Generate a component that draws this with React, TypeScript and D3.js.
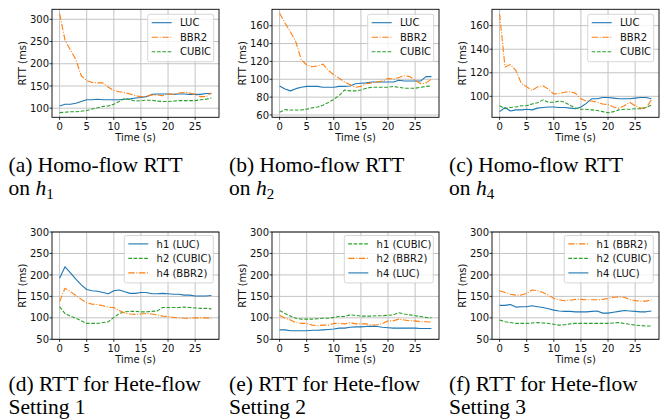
import React from 'react';
import * as d3 from 'd3';

// seconds 0..28
const seconds = [0, 1, 2, 3, 4, 5, 6, 7, 8, 9, 10, 11, 12, 13, 14, 15, 16, 17, 18, 19, 20, 21, 22, 23, 24, 25, 26, 27, 28];
const xTicks = [0, 5, 10, 15, 20, 25];

// (a) homo-flow on h1
const aLuc = [105, 109, 109, 111, 115, 119, 119, 120, 119, 119, 119, 119, 120, 121, 123, 124, 126, 131, 132, 132, 132, 131, 132, 132, 131, 131, 131, 133, 133];
const aBbr2 = [313, 253, 231, 209, 173, 162, 158, 157, 157, 147, 140, 137, 135, 132, 128, 126, 126, 130, 130, 128, 132, 131, 134, 136, 134, 131, 126, 126, 134];
const aCubic = [90, 91, 92, 92, 93, 95, 98, 101, 104, 105, 109, 115, 122, 119, 116, 117, 118, 118, 116, 115, 115, 116, 117, 117, 117, 117, 119, 120, 123];

// (b) homo-flow on h2
const bLuc = [92.5, 89, 87, 89.5, 91, 92, 92, 92, 91, 91, 91, 92, 92, 92.5, 95, 95.5, 96, 97, 97, 97, 97, 97, 99, 98, 98, 98, 98, 103, 103];
const bBbr2 = [174, 163, 153, 142, 122, 116, 114, 115, 117, 110, 105, 101, 97, 94, 91, 92, 95, 96, 97, 98, 101, 100, 102, 104, 103, 99, 95, 96, 100];
const bCubic = [63, 66, 65.5, 65.5, 65.5, 66.5, 68, 69, 71, 74, 77.5, 82, 88, 87, 87, 88, 90, 91, 91, 91, 91, 92, 91, 90, 90, 90, 91, 92, 92.5];

// (c) homo-flow on h4
const cLuc = [87, 90.5, 87.5, 88.5, 88.5, 89, 88.5, 90, 90.5, 91, 91, 90.5, 90.5, 90, 89.5, 91, 94, 98, 98, 99, 99, 98.5, 98, 98, 98, 98.5, 99, 99, 98];
const cBbr2 = [170, 125, 127, 122, 111, 108, 105, 108, 109, 106, 102, 102.5, 103.5, 104, 102.5, 98, 96, 96, 95, 93.5, 93, 91, 90, 92, 95, 92, 90, 90, 97];
const cCubic = [92, 89.5, 90.5, 91, 92, 92, 93.5, 94.5, 97, 95, 95, 96, 95, 92.5, 90, 89, 89, 88.5, 88, 87, 86, 87, 88.5, 89, 89, 89.5, 89.5, 90.5, 92.5];

// (d) hete-flow setting 1
const dH1Luc = [192, 219, 205, 190, 177, 166, 163, 162, 159, 156, 163, 165, 161, 157, 157, 159, 159, 156, 156, 157, 156, 155, 155, 153, 153, 151, 151, 151, 152];
const dH2Cubic = [126, 110, 104, 99, 93, 87, 87, 87, 89, 91, 101, 110, 114, 115, 115, 114, 114, 115, 116, 124, 124, 124, 124, 125, 124, 123, 122, 122, 121];
const dH4Bbr2 = [138, 169, 161, 152, 143, 135, 132, 131, 128, 125, 124, 117, 111, 109, 108, 109, 110, 109, 107, 104, 103, 101, 100, 99, 99, 100, 100, 100, 100];

// (e) hete-flow setting 2
const eH1Cubic = [117, 110, 104, 99, 97, 97, 97, 98, 99, 99, 101, 103, 103, 107, 106, 104, 104, 104, 105, 105, 106, 107, 112, 109, 107, 105, 103, 101, 100];
const eH2Bbr2 = [106, 99, 95, 89, 87, 87, 83, 82, 83, 83, 87, 87, 86, 89, 86, 86, 86, 83, 84, 87, 93, 93, 97, 95, 93, 93, 91, 91, 90];
const eH4Luc = [72, 72, 70, 70, 70, 70, 71, 71, 72, 73, 74, 76, 76, 78, 79, 79, 80, 80, 80, 78, 77, 76, 76, 76, 76, 76, 75, 75, 75];

// (f) hete-flow setting 3
const fH1Bbr2 = [163, 159, 155, 153, 153, 157, 165, 163, 159, 153, 145, 142, 140, 141, 143, 143, 142, 142, 142, 143, 145, 148, 149, 148, 143, 140, 139, 139, 142];
const fH2Cubic = [95, 91, 89, 87, 87, 87, 88, 89, 88, 87, 85, 83, 84, 86, 87, 87, 87, 87, 87, 87, 87, 88, 89, 87, 85, 83, 82, 81, 81];
const fH4Luc = [129, 129, 131, 125, 126, 126, 128, 126, 124, 121, 118, 116, 115, 115, 114, 114, 114, 115, 116, 111, 111, 113, 115, 117, 116, 115, 114, 114, 116];

const captionsTop = ['(a) Homo-flow RTT', '(b) Homo-flow RTT', '(c) Homo-flow RTT'];
const captionSubs = ['1', '2', '4'];
const captionsBottom = ['(d) RTT for Hete-flow', '(e) RTT for Hete-flow', '(f) RTT for Hete-flow'];
const settingNames = ['Setting 1', 'Setting 2', 'Setting 3'];

const BLUE = '#1f77b4';
const ORANGE = '#ff7f0e';
const GREEN = '#2ca02c';
const SOLID = 'none';
const DASHED = '3.7,1.6';
const DASHDOT = '6.4,1.6,1,1.6';

const FONT = 'DejaVu Sans';

const mk = (label, values, color, dash) => ({ label, values, color, dash });

const panels = [
  { ox: 0, row: 0, yDomain: [79.5, 322.5], yTicks: [100, 150, 200, 250, 300],
    series: [mk('LUC', aLuc, BLUE, SOLID), mk('BBR2', aBbr2, ORANGE, DASHDOT), mk('CUBIC', aCubic, GREEN, DASHED)] },
  { ox: 220, row: 0, yDomain: [57.4, 178.4], yTicks: [60, 80, 100, 120, 140, 160],
    series: [mk('LUC', bLuc, BLUE, SOLID), mk('BBR2', bBbr2, ORANGE, DASHDOT), mk('CUBIC', bCubic, GREEN, DASHED)] },
  { ox: 440, row: 0, yDomain: [82.2, 173.9], yTicks: [100, 120, 140, 160],
    series: [mk('LUC', cLuc, BLUE, SOLID), mk('BBR2', cBbr2, ORANGE, DASHDOT), mk('CUBIC', cCubic, GREEN, DASHED)] },
  { ox: 0, row: 1, yDomain: [50, 300], yTicks: [50, 100, 150, 200, 250, 300],
    series: [mk('h1 (LUC)', dH1Luc, BLUE, SOLID), mk('h2 (CUBIC)', dH2Cubic, GREEN, DASHED), mk('h4 (BBR2)', dH4Bbr2, ORANGE, DASHDOT)] },
  { ox: 220, row: 1, yDomain: [50, 300], yTicks: [50, 100, 150, 200, 250, 300],
    series: [mk('h1 (CUBIC)', eH1Cubic, GREEN, DASHED), mk('h2 (BBR2)', eH2Bbr2, ORANGE, DASHDOT), mk('h4 (LUC)', eH4Luc, BLUE, SOLID)] },
  { ox: 440, row: 1, yDomain: [50, 300], yTicks: [50, 100, 150, 200, 250, 300],
    series: [mk('h1 (BBR2)', fH1Bbr2, ORANGE, DASHDOT), mk('h2 (CUBIC)', fH2Cubic, GREEN, DASHED), mk('h4 (LUC)', fH4Luc, BLUE, SOLID)] },
];

const rows = [
  { top: 9.3, bottom: 117.3, legendX: 147.7, legendY: 14.3, legendW: 66, legendH: 47.4 },
  { top: 232, bottom: 339.3, legendX: 124.3, legendY: 235.5, legendW: 89, legendH: 47.4 },
];

function Panel({ p }) {
  const r = rows[p.row];
  const left = p.ox + 52, right = p.ox + 219;
  const x = d3.scaleLinear().domain([-1.4, 29.4]).range([left, right]);
  const y = d3.scaleLinear().domain(p.yDomain).range([r.bottom, r.top]);
  const line = d3.line<number>().x((_, i) => x(seconds[i])).y(d => y(d)).curve(d3.curveLinear);
  const lx = p.ox + r.legendX;
  return (
    <g>
      {xTicks.map(t => (
        <line key={'gx' + t} x1={x(t)} x2={x(t)} y1={r.top} y2={r.bottom} stroke="#c4c4c4" strokeWidth={1} />
      ))}
      {p.yTicks.map(t => (
        <line key={'gy' + t} x1={left} x2={right} y1={y(t)} y2={y(t)} stroke="#c4c4c4" strokeWidth={1} />
      ))}
      {p.series.map(s => (
        <path key={s.label} d={line(s.values)} fill="none" stroke={s.color} strokeWidth={1.1}
          strokeDasharray={s.dash} strokeLinejoin="round" />
      ))}
      <rect x={left} y={r.top} width={right - left} height={r.bottom - r.top} fill="none" stroke="#000" strokeWidth={0.9} />
      {xTicks.map(t => (
        <g key={'tx' + t}>
          <line x1={x(t)} x2={x(t)} y1={r.bottom} y2={r.bottom + 2.5} stroke="#000" strokeWidth={0.8} />
          <text x={x(t)} y={r.bottom + 12.3} textAnchor="middle" fontSize={10} fontFamily={FONT} fill="#111">{t}</text>
        </g>
      ))}
      {p.yTicks.map(t => (
        <g key={'ty' + t}>
          <line x1={left - 2.5} x2={left} y1={y(t)} y2={y(t)} stroke="#000" strokeWidth={0.8} />
          <text x={left - 3} y={y(t)} dy="0.36em" textAnchor="end" fontSize={10} fontFamily={FONT} fill="#111">{t}</text>
        </g>
      ))}
      <text x={(left + right) / 2} y={r.bottom + 23.5} textAnchor="middle" fontSize={10} fontFamily={FONT} fill="#111">Time (s)</text>
      <text transform={`translate(${p.ox + 26.3},${(r.top + r.bottom) / 2}) rotate(-90)`} textAnchor="middle"
        fontSize={10} fontFamily={FONT} fill="#111">RTT (ms)</text>
      <rect x={lx} y={r.legendY} width={r.legendW} height={r.legendH} rx={2} fill="#fff" fillOpacity={0.8}
        stroke="#cccccc" strokeWidth={0.8} />
      {p.series.map((s, i) => {
        const ry = r.legendY + 8.4 + i * 14.5;
        return (
          <g key={'lg' + s.label}>
            <line x1={lx + 4} x2={lx + 24} y1={ry} y2={ry} stroke={s.color} strokeWidth={1.1} strokeDasharray={s.dash} />
            <text x={lx + 32.3} y={ry} dy="0.36em" fontSize={10} fontFamily={FONT} fill="#111">{s.label}</text>
          </g>
        );
      })}
    </g>
  );
}

export default function App() {
  const capX = [8.5, 229, 449];
  return (
    <svg width={664} height={419} style={{ position: 'absolute', left: 0, top: 0, background: '#fff' }}>
      {panels.map((p, i) => <Panel key={i} p={p} />)}
      {captionsTop.map((c, i) => (
        <g key={'ct' + i} fontFamily="Liberation Serif" fontSize={21.5} fill="#000">
          <text x={capX[i]} y={172}>{c}</text>
          <text x={capX[i]} y={194.5}>on <tspan fontStyle="italic">h</tspan><tspan fontSize={15} dy={4}>{captionSubs[i]}</tspan></text>
        </g>
      ))}
      {captionsBottom.map((c, i) => (
        <g key={'cb' + i} fontFamily="Liberation Serif" fontSize={21.5} fill="#000">
          <text x={capX[i]} y={391}>{c}</text>
          <text x={capX[i]} y={413.5}>{settingNames[i]}</text>
        </g>
      ))}
    </svg>
  );
}
